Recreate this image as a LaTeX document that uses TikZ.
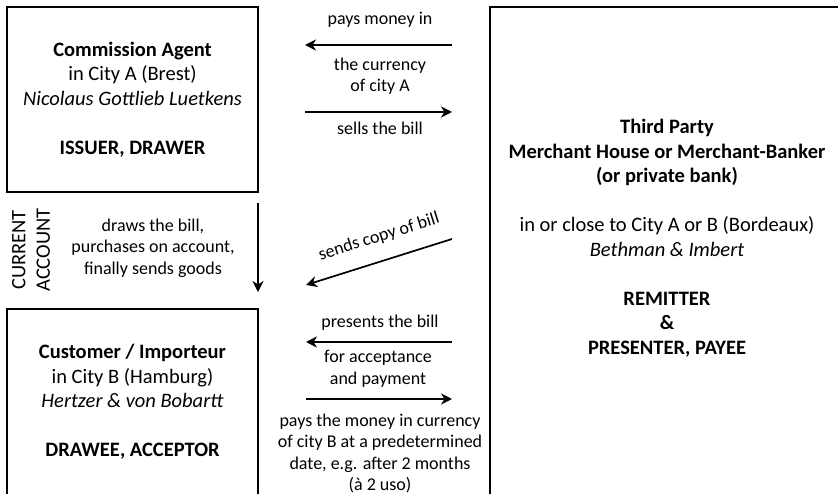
\documentclass[tikz,border=0pt]{standalone}
\usepackage{fontspec}
\setmainfont{Carlito}
\usetikzlibrary{arrows.meta}

\begin{document}
\begin{tikzpicture}[x=1pt,y=-1pt,
  party/.style={draw,line width=2.2pt,align=center,inner sep=0pt,font=\fontsize{20.5}{24.5}\selectfont},
  flow/.style={-{Stealth[length=11pt,width=11pt,inset=3.5pt]},line width=1.7pt},
  lbl/.style={align=center,inner sep=0pt,font=\fontsize{18}{21.5}\selectfont}]
\useasboundingbox (0,0) rectangle (838,494);

% Parties
\node[party,minimum width=251pt,minimum height=185pt] (agent) at (132.5,99.5)
  {\textbf{Commission Agent}\\ in City A (Brest)\\ \textit{Nicolaus Gottlieb Luetkens}\\[24.5pt] \textbf{ISSUER, DRAWER}};
\node[party,minimum width=251pt,minimum height=186pt] (customer) at (132.5,402)
  {\textbf{Customer / Importeur}\\ in City B (Hamburg)\\ \textit{Hertzer \& von Bobartt}\\[24.5pt] \textbf{DRAWEE, ACCEPTOR}};
\node[party,minimum width=354pt,minimum height=488pt] (third) at (667,251) {};
\node[party,draw=none] (thirdtext) at (667,238)
  {\textbf{Third Party}\\ \textbf{Merchant House or Merchant-Banker}\\ \textbf{(or private bank)}\\[24.5pt]
   in or close to City A or B (Bordeaux)\\ \textit{Bethman \& Imbert}\\[24.5pt]
   \textbf{REMITTER}\\ \textbf{\&}\\ \textbf{PRESENTER, PAYEE}};

% Arrow ends
\coordinate (payR) at (452,45);
\coordinate (payL) at (305,45);
\coordinate (sellL) at (305,112);
\coordinate (sellR) at (452,112);
\coordinate (drawT) at (258,203);
\coordinate (drawB) at (258,292);
\coordinate (copyR) at (452,239);
\coordinate (copyL) at (306,285);
\coordinate (presR) at (452,342);
\coordinate (presL) at (306,342);
\coordinate (moneyL) at (306,399);
\coordinate (moneyR) at (452,399);

% Arrows
\draw[flow] (payR) -- (payL);
\draw[flow] (sellL) -- (sellR);
\draw[flow] (drawT) -- (drawB);
\draw[flow] (copyR) -- (copyL);
\draw[flow] (presR) -- (presL);
\draw[flow] (moneyL) -- (moneyR);

% Labels
\node[lbl] (paylbl) at (380,20) {pays money in};
\node[lbl] (currlbl) at (380,76) {the currency\\ of city A};
\node[lbl] (selllbl) at (380,128) {sells the bill};
\node[party,draw=none,rotate=90] (account) at (31,250) {CURRENT\\ ACCOUNT};
\node[lbl] (drawlbl) at (153,248) {draws the bill,\\ purchases on account,\\ finally sends goods};
\node[lbl,rotate=17.5] (copylbl) at (379,237) {sends copy of bill};
\node[lbl] (preslbl) at (380,323) {presents the bill};
\node[lbl] (acclbl) at (378,369) {for acceptance\\ and payment};
\node[lbl] (moneylbl) at (380,453.5) {pays the money in currency\\ of city B at a predetermined\\ date, e.g. after 2 months\\ (à 2 uso)};
\end{tikzpicture}
\end{document}
